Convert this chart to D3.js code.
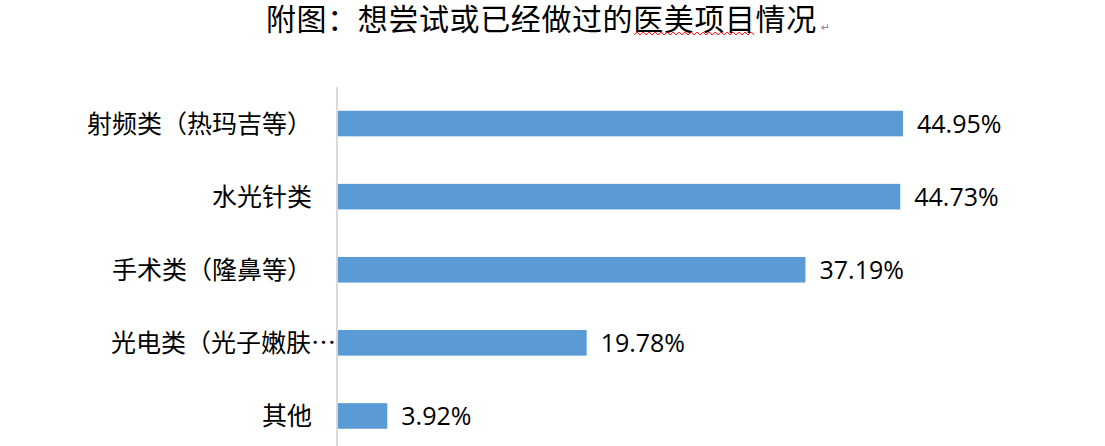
<!DOCTYPE html>
<html>
<head>
<meta charset="utf-8">
<script src="https://cdn.jsdelivr.net/npm/d3@7.9.0/dist/d3.min.js"></script>
<style>
  html, body { margin: 0; padding: 0; background: #fff; }
  svg { display: block; }
</style>
</head>
<body>
<svg id="chart" width="1105" height="446"></svg>
<script>
const title = '附图：想尝试或已经做过的医美项目情况';
const categories = ['射频类（热玛吉等）', '水光针类', '手术类（隆鼻等）', '光电类（光子嫩肤…', '其他'];
const values = [44.95, 44.73, 37.19, 19.78, 3.92];

const axisX = 337;

const svg = d3.select('#chart');

const x = d3.scaleLinear().domain([0, 50]).range([338, 966.5]);
const y = d3.scaleBand()
  .domain(categories)
  .range([87, 452.5])
  .paddingInner(0.65)
  .paddingOuter(0.325);

// title
const titleText = svg.append('text')
  .attr('x', 266)
  .attr('y', 30)
  .attr('font-family', '"Noto Sans CJK SC", sans-serif')
  .attr('font-size', 30)
  .attr('letter-spacing', 0.6)
  .attr('fill', '#000')
  .text(title);

// red wavy spell-check underline under 医美项目
const tNode = titleText.node();
const wStart = 266 + tNode.getSubStringLength(0, 12) + 1;
const wEnd = 266 + tNode.getSubStringLength(0, 16);
const wave = d3.range(wStart, wEnd, 3).map((px, i) => [px, i % 2 ? 32 : 35]);
svg.append('path')
  .attr('d', d3.line()(wave))
  .attr('fill', 'none')
  .attr('stroke', '#ff0000')
  .attr('stroke-width', 1);

// paragraph mark
svg.append('text')
  .attr('x', 821)
  .attr('y', 31)
  .attr('font-family', '"DejaVu Sans", sans-serif')
  .attr('font-size', 11)
  .attr('fill', '#888')
  .text('↵');

// bars
svg.append('g')
  .selectAll('rect')
  .data(values)
  .join('rect')
  .attr('x', x(0))
  .attr('y', (d, i) => y(categories[i]))
  .attr('width', (d) => x(d) - x(0))
  .attr('height', y.bandwidth())
  .attr('fill', '#5b9bd5');

// axis line
svg.append('line')
  .attr('x1', axisX).attr('x2', axisX)
  .attr('y1', y.range()[0]).attr('y2', y.range()[1])
  .attr('stroke', '#d9d9d9')
  .attr('stroke-width', 2);

// category labels (the cut-off one sits left-aligned like in Excel)
svg.append('g')
  .selectAll('text')
  .data(categories)
  .join('text')
  .attr('x', (d) => d.endsWith('…') ? 111 : 312)
  .attr('text-anchor', (d) => d.endsWith('…') ? 'start' : 'end')
  .attr('y', (d) => y(d) + y.bandwidth() / 2 + 9.5)
  .attr('font-family', '"Noto Sans CJK SC", sans-serif')
  .attr('font-size', 25)
  .attr('fill', '#000')
  .text((d) => d);

// value labels
svg.append('g')
  .selectAll('text')
  .data(values)
  .join('text')
  .attr('x', (d) => x(d) + 14)
  .attr('y', (d, i) => y(categories[i]) + y.bandwidth() / 2 + 9.5)
  .attr('font-family', '"Open Sans", sans-serif')
  .attr('font-size', 25)
  .attr('fill', '#000')
  .text((d) => d.toFixed(2) + '%');
</script>
</body>
</html>
